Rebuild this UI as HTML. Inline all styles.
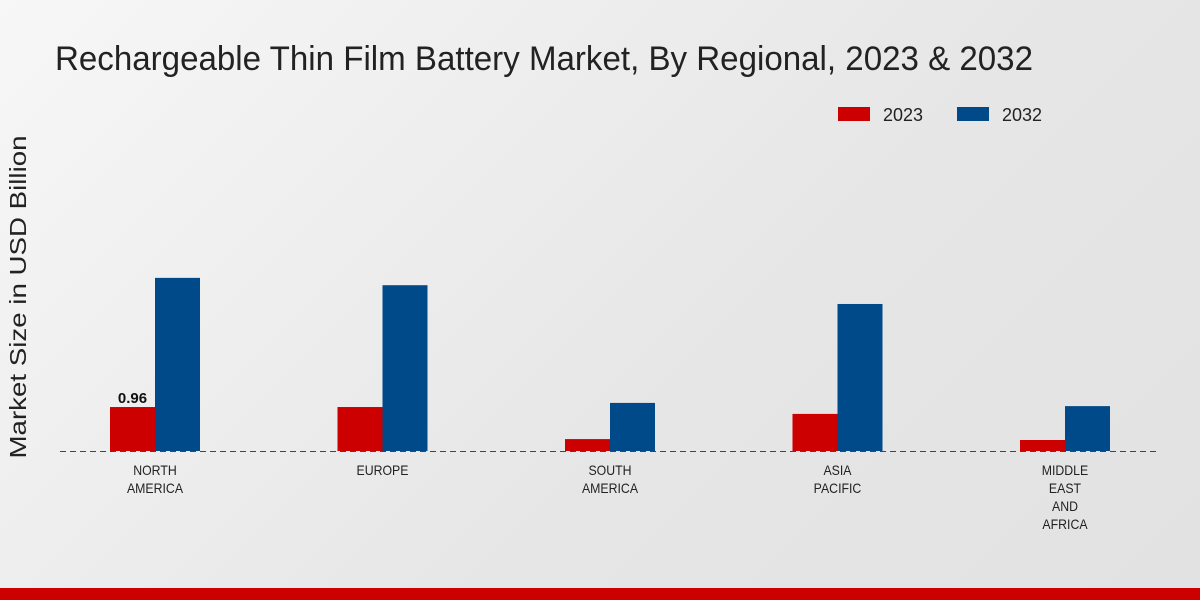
<!DOCTYPE html>
<html><head><meta charset="utf-8"><style>
html,body{margin:0;padding:0;width:1200px;height:600px;overflow:hidden}
body{background:linear-gradient(135deg,#f7f7f7 0%,#e6e6e6 60%,#e2e2e2 100%);font-family:"Liberation Sans",sans-serif}
</style></head><body>
<svg id="chart" width="1200" height="600" xmlns="http://www.w3.org/2000/svg">
<text x="55" y="70" font-size="34" fill="#222" textLength="978" lengthAdjust="spacingAndGlyphs">Rechargeable Thin Film Battery Market, By Regional, 2023 &amp; 2032</text>
<text transform="translate(26,297) rotate(-90)" text-anchor="middle" font-size="23" fill="#222" textLength="323" lengthAdjust="spacingAndGlyphs">Market Size in USD Billion</text>
<g>
<rect x="838" y="107" width="32" height="14" fill="#cc0000"/>
<text x="883" y="121" font-size="18" fill="#222" textLength="40" lengthAdjust="spacingAndGlyphs">2023</text>
<rect x="957" y="107" width="32" height="14" fill="#004a8a"/>
<text x="1002" y="121" font-size="18" fill="#222" textLength="40" lengthAdjust="spacingAndGlyphs">2032</text>
</g>
<g id="bars"></g>
<line x1="60" y1="451.5" x2="1160" y2="451.5" stroke="#444" stroke-dasharray="6,4"/>
<g id="labels"></g>
<rect x="0" y="588" width="1200" height="12" fill="#cc0000"/>
</svg>
<script>
const categories=[["NORTH","AMERICA"],["EUROPE"],["SOUTH","AMERICA"],["ASIA","PACIFIC"],["MIDDLE","EAST","AND","AFRICA"]];
const values2023=[0.96,0.96,0.26,0.81,0.24];
const values2032=[3.78,3.62,1.05,3.21,0.98];
const valueLabels=["0.96","","","",""];
const NS="http://www.w3.org/2000/svg";
const baseY=451,scale=45.8,x0=155,step=227.5,bw=45;
const y=v=>baseY-v*scale;
const xc=i=>x0+i*step;
const bars=document.getElementById('bars'),labels=document.getElementById('labels');
function mk(t,a){const e=document.createElementNS(NS,t);for(const k in a)e.setAttribute(k,a[k]);return e;}
categories.forEach((c,i)=>{
 const r1=mk('rect',{x:xc(i)-bw,y:y(values2023[i]),width:bw,height:values2023[i]*scale,fill:'#cc0000'});
 
 
 bars.appendChild(r1);
 const r2=mk('rect',{x:xc(i),y:y(values2032[i]),width:bw,height:values2032[i]*scale,fill:'#004a8a'});
 
 
 bars.appendChild(r2);
 if(valueLabels[i]){
  const t=mk('text',{x:xc(i)-bw/2,y:y(values2023[i])-4,'text-anchor':'middle','font-size':15,'font-weight':'bold',fill:'#111'});
  t.textContent=valueLabels[i];
  
  
  labels.appendChild(t);
 }
 c.forEach((line,j)=>{
  const t=mk('text',{x:xc(i),y:475+j*18,'text-anchor':'middle','font-size':14,fill:'#222',transform:'translate('+xc(i)+',0) scale(0.88,1) translate('+(-xc(i))+',0)'});
  t.textContent=line;
  
  
  labels.appendChild(t);
 });
});
</script>
</body></html>
